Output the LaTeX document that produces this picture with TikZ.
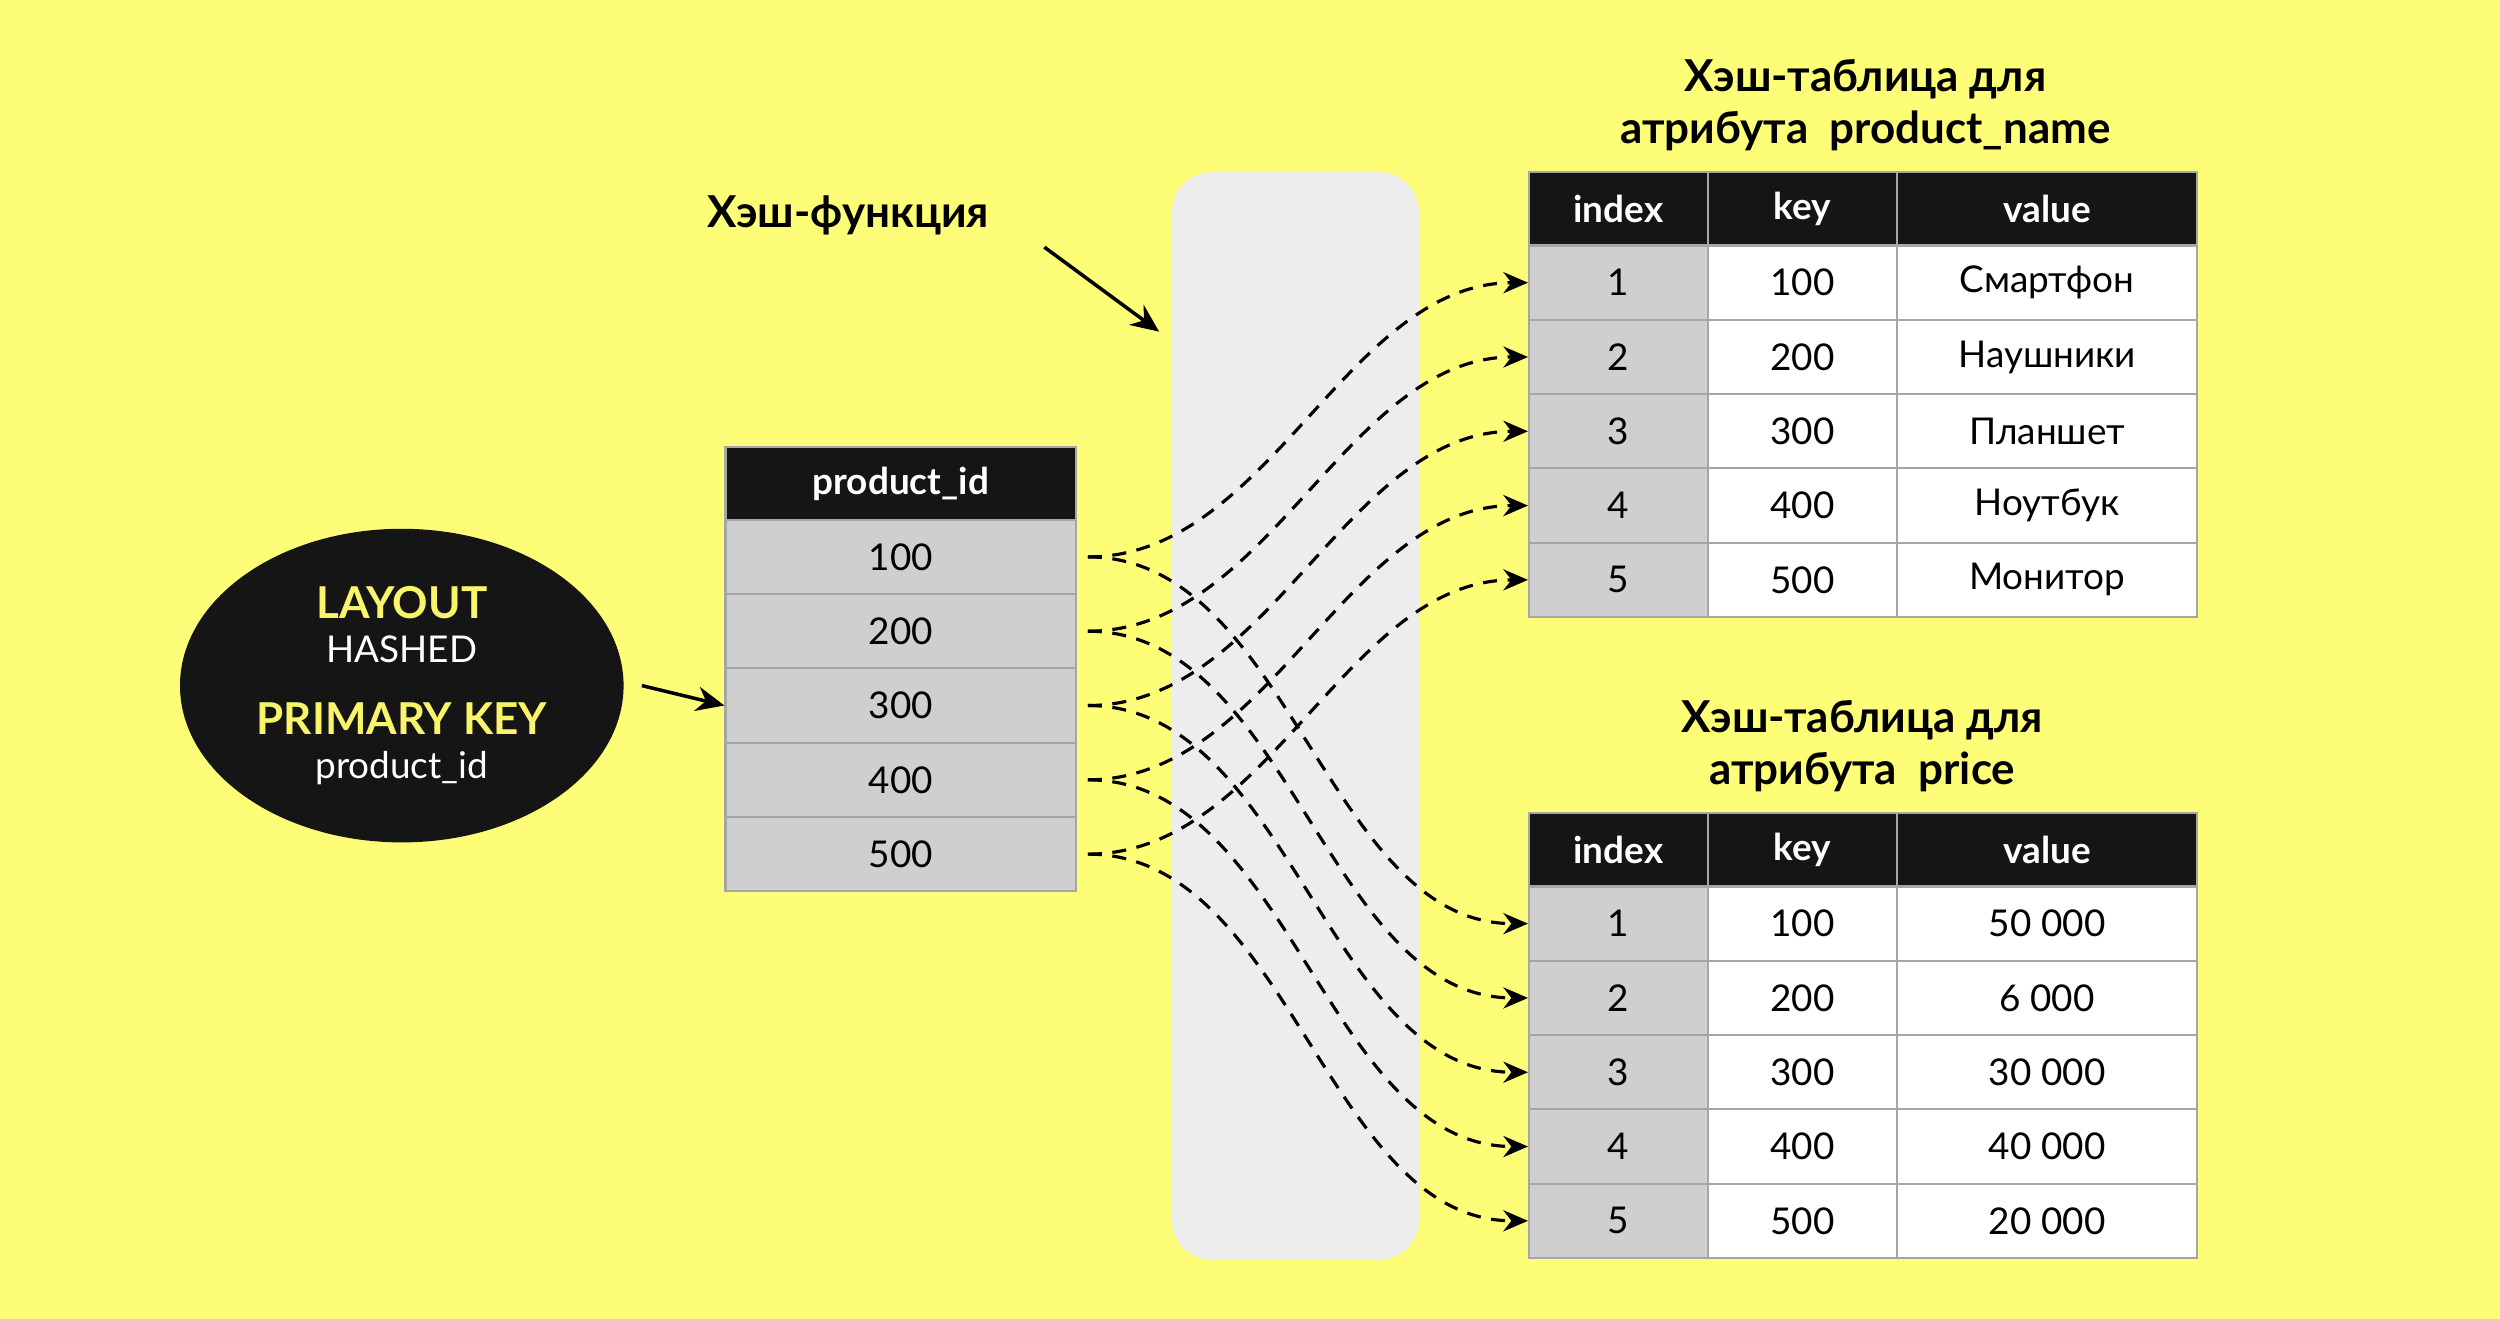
\documentclass[tikz,border=0pt]{standalone}
\usepackage{fontspec}
\setmainfont{Lato}
\usetikzlibrary{arrows.meta, shapes.geometric}
\definecolor{bgyellow}{HTML}{FEFD78}
\definecolor{cellgray}{HTML}{CFCFCF}
\definecolor{hashgray}{HTML}{EDEDED}
\definecolor{inkblack}{HTML}{151515}
\definecolor{layoutyellow}{HTML}{F9F56A}
\newcommand{\pxu}{0.01594cm}
\begin{document}
\begin{tikzpicture}[
    x=0.01594cm, y=-0.01594cm,
    cell/.style={draw=gray!70, line width=0.6pt, inner sep=0, minimum height=46.6*\pxu, font=\fontsize{10.5}{12}\selectfont},
    head/.style={cell, fill=inkblack, text=white, minimum height=46*\pxu, font=\fontsize{10.5}{12}\selectfont\bfseries},
    link/.style={-{Stealth[length=7pt,width=6pt]}, dashed, line width=0.9pt, dash pattern=on 4pt off 3pt},
    arrow/.style={-{Stealth[length=8pt,width=7pt]}, line width=1pt},
    title/.style={align=center, font=\fontsize{12.5}{15}\selectfont\bfseries}
]
    % Background
    \fill[bgyellow] (0,0) rectangle (1568,827);
    % Hash function
    \fill[hashgray, rounded corners=25*\pxu] (735,108) rectangle (890,790);
    \node[font=\fontsize{12.5}{15}\selectfont\bfseries] (hashlabel) at (532,135) {Хэш-функция};
    \coordinate (hashtip) at (727,208);
    \draw[arrow] (655,155) -- (hashtip);

    % Layout ellipse
    \node[ellipse, fill=inkblack, minimum width=276*\pxu, minimum height=180*\pxu, align=center,
          text=white, font=\fontsize{10.5}{12.5}\selectfont] (layout) at (252,430)
          {{\color{layoutyellow}\bfseries\fontsize{12.5}{14}\selectfont LAYOUT}\\HASHED\\[8pt]
           {\color{layoutyellow}\bfseries\fontsize{12.5}{14}\selectfont PRIMARY KEY}\\product\_id};

    % Source table
    \node[head, minimum width=220*\pxu] (lhead) at (565,303.5) {product\_id};
    \foreach \i in {1,...,5}
        \node[cell, fill=cellgray, minimum width=220*\pxu] (l\i) at (565,{349.3+46.6*(\i-1)}) {\i00};
    \draw[arrow] (layout.east) ++(5pt,0) -- (l3.west);

    % Hash tables
    \foreach \t/\y in {a/131, b/533} {
        \node[head, minimum width=112*\pxu] (\t hi) at (1015,\y) {index};
        \node[head, minimum width=119*\pxu] (\t hk) at (1130.5,\y) {key};
        \node[head, minimum width=188*\pxu] (\t hv) at (1284,\y) {value};
        \foreach \i in {1,...,5} {
            \node[cell, fill=cellgray, minimum width=112*\pxu] (\t\i) at (1015,{\y+46.3+46.6*(\i-1)}) {\i};
            \node[cell, fill=white, minimum width=119*\pxu] (\t k\i) at (1130.5,{\y+46.3+46.6*(\i-1)}) {\i00};
        }
    }
    \foreach \i/\v in {1/Смартфон, 2/Наушники, 3/Планшет, 4/Ноутбук, 5/Монитор}
        \node[cell, fill=white, minimum width=188*\pxu] (av\i) at (1284,{177.3+46.6*(\i-1)}) {\v};
    \foreach \i/\v in {1/50 000, 2/6 000, 3/30 000, 4/40 000, 5/20 000}
        \node[cell, fill=white, minimum width=188*\pxu] (bv\i) at (1284,{579.3+46.6*(\i-1)}) {\v};

    \node[title] (atitle) at (1170,66) {Хэш-таблица для\\атрибута\ \ product\_name};
    \node[title] (btitle) at (1168,468) {Хэш-таблица для\\атрибута\ \ price};

    % Links
    \foreach \i in {1,...,5} {
        \draw[link] ([xshift=3pt]l\i.east) to[out=0, in=180, looseness=0.9] (a\i.west);
        \draw[link] ([xshift=3pt]l\i.east) to[out=0, in=180, looseness=0.9] (b\i.west);
    }
\end{tikzpicture}
\end{document}
